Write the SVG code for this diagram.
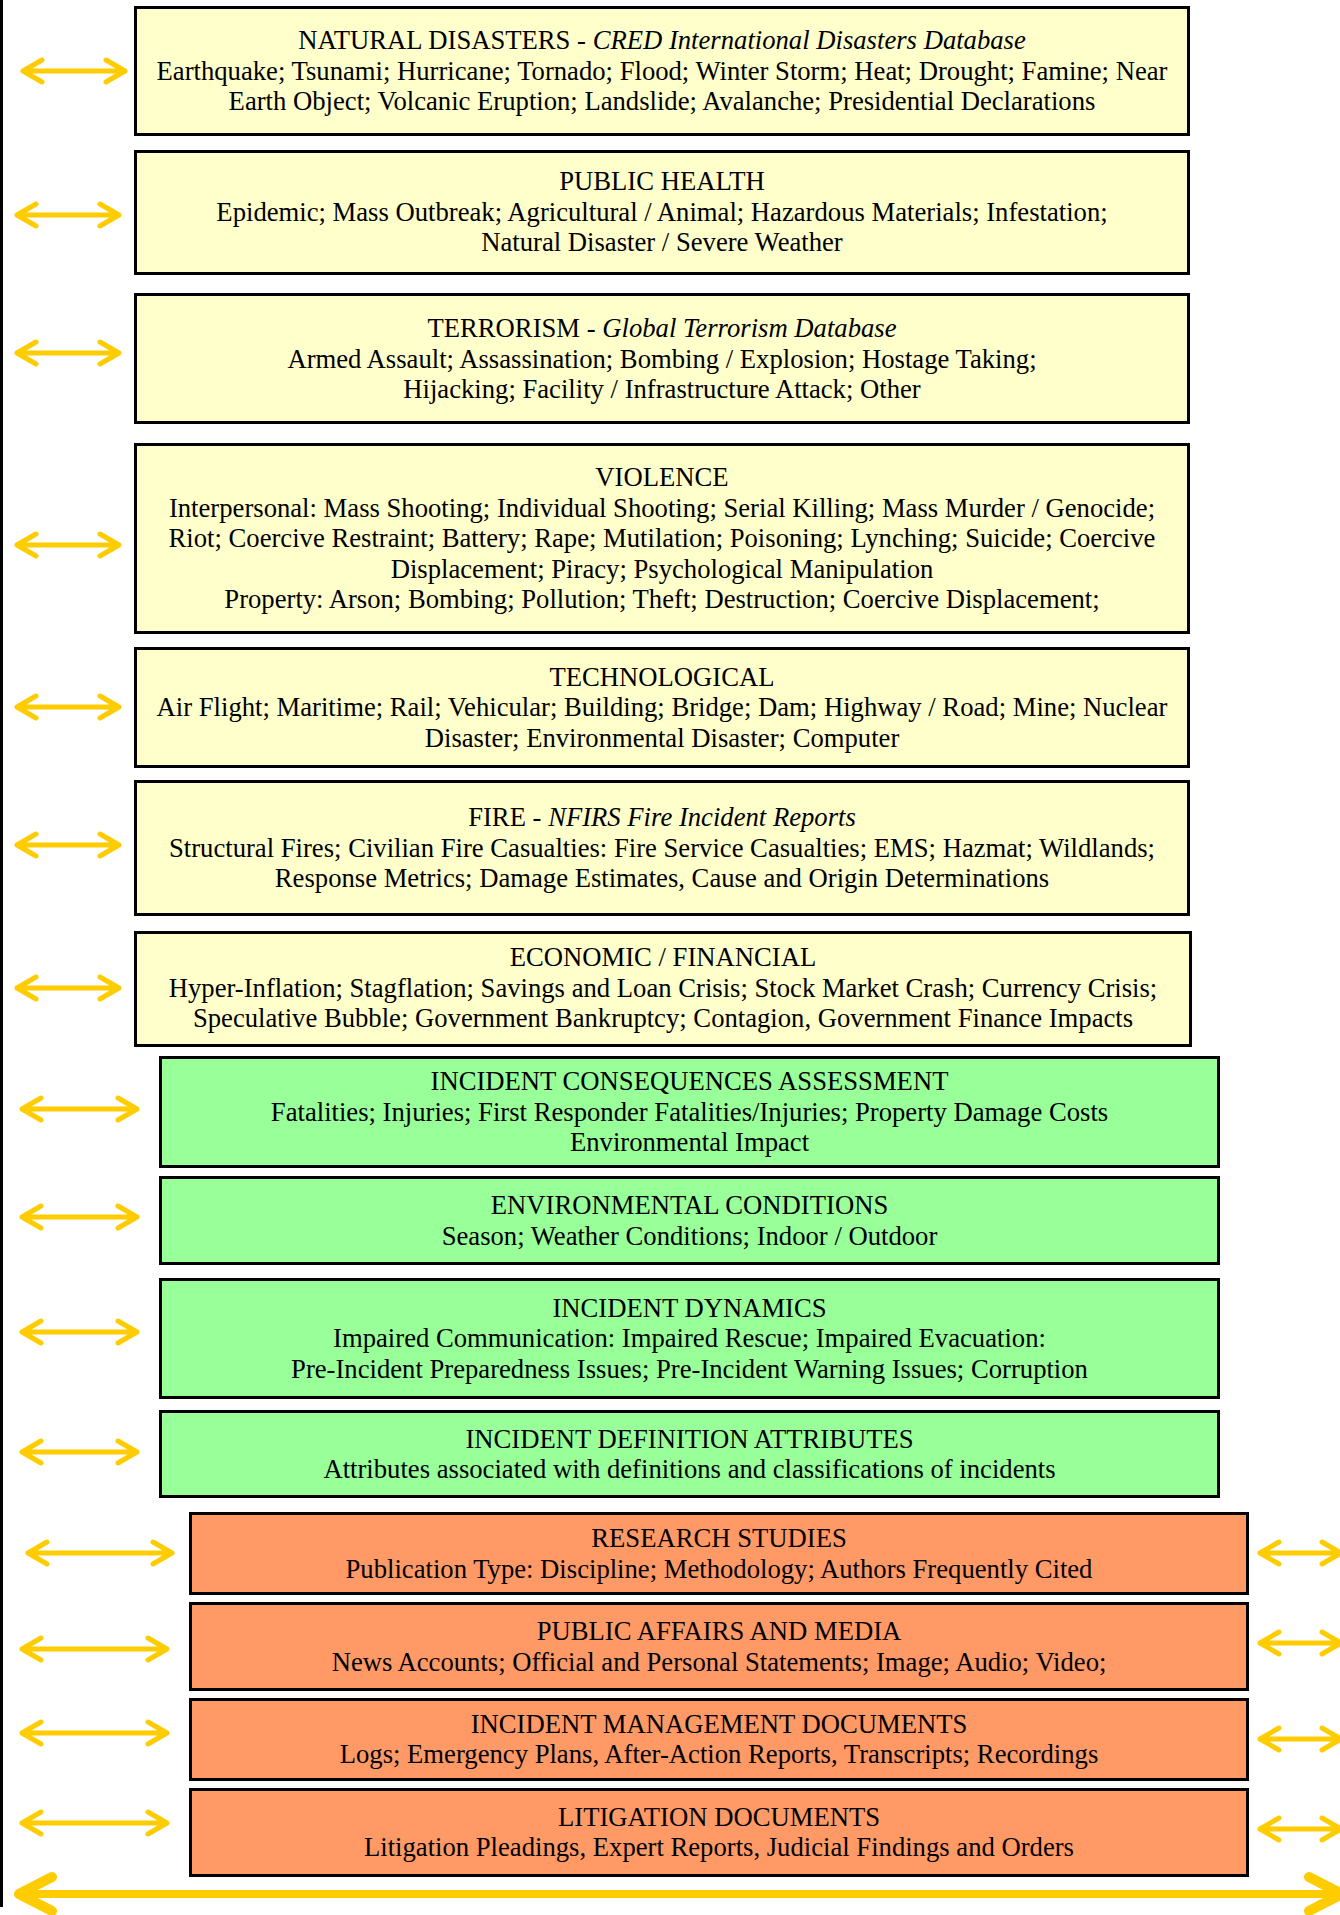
<svg xmlns="http://www.w3.org/2000/svg" width="1340" height="1915" viewBox="0 0 1340 1915">
<style>
.box{stroke:#000;stroke-width:3}
.y{fill:#FFFFCC}
.g{fill:#99FF99}
.o{fill:#FF9966}
text{font-family:"Liberation Serif","Times New Roman",serif;font-size:26.67px;fill:#000;text-anchor:middle}
.i{font-style:italic}
.arr{fill:none;stroke:#FFCC00;stroke-width:5;stroke-linecap:round;stroke-linejoin:round}
.big{fill:none;stroke:#FFCC00;stroke-width:8;stroke-linecap:round;stroke-linejoin:round}
.bighead{fill:none;stroke:#FFCC00;stroke-width:10;stroke-linecap:round;stroke-linejoin:round}
</style>
<rect width="1340" height="1915" fill="#fff"/>
<line x1="1.5" y1="0" x2="1.5" y2="1907" stroke="#000" stroke-width="3"/>

<g id="connectors">
<path class="arr" d="M23 71H125M42 60L23 71L42 82M106 60L125 71L106 82"/>
<path class="arr" d="M17 215H119M36 204L17 215L36 226M100 204L119 215L100 226"/>
<path class="arr" d="M17 353H119M36 342L17 353L36 364M100 342L119 353L100 364"/>
<path class="arr" d="M17 545H119M36 534L17 545L36 556M100 534L119 545L100 556"/>
<path class="arr" d="M17 707H119M36 696L17 707L36 718M100 696L119 707L100 718"/>
<path class="arr" d="M17 845H119M36 834L17 845L36 856M100 834L119 845L100 856"/>
<path class="arr" d="M17 988H119M36 977L17 988L36 999M100 977L119 988L100 999"/>
<path class="arr" d="M22 1109H137M41 1098L22 1109L41 1120M118 1098L137 1109L118 1120"/>
<path class="arr" d="M22 1217H137M41 1206L22 1217L41 1228M118 1206L137 1217L118 1228"/>
<path class="arr" d="M22 1332H137M41 1321L22 1332L41 1343M118 1321L137 1332L118 1343"/>
<path class="arr" d="M22 1452H137M41 1441L22 1452L41 1463M118 1441L137 1452L118 1463"/>
<path class="arr" d="M28 1553H172M47 1542L28 1553L47 1564M153 1542L172 1553L153 1564"/>
<path class="arr" d="M22 1649H167M41 1638L22 1649L41 1660M148 1638L167 1649L148 1660"/>
<path class="arr" d="M22 1733H167M41 1722L22 1733L41 1744M148 1722L167 1733L148 1744"/>
<path class="arr" d="M22 1823H167M41 1812L22 1823L41 1834M148 1812L167 1823L148 1834"/>
<path class="arr" d="M1260 1553H1341M1279 1542L1260 1553L1279 1564M1322 1542L1341 1553L1322 1564"/>
<path class="arr" d="M1260 1643H1341M1279 1632L1260 1643L1279 1654M1322 1632L1341 1643L1322 1654"/>
<path class="arr" d="M1260 1739H1341M1279 1728L1260 1739L1279 1750M1322 1728L1341 1739L1322 1750"/>
<path class="arr" d="M1260 1829H1341M1279 1818L1260 1829L1279 1840M1322 1818L1341 1829L1322 1840"/>
<path class="big" d="M20 1894H1340"/>
<path class="bighead" d="M52 1877L19 1894L52 1911M1309 1877L1342 1894L1309 1911"/>
</g>

<g id="natural-disasters">
<rect class="box y" x="135.5" y="7.5" width="1053" height="127"/>
<text x="662" y="49">NATURAL DISASTERS - <tspan class="i">CRED International Disasters Database</tspan></text>
<text x="662" y="80">Earthquake; Tsunami; Hurricane; Tornado; Flood; Winter Storm; Heat; Drought; Famine; Near</text>
<text x="662" y="110">Earth Object; Volcanic Eruption; Landslide; Avalanche; Presidential Declarations</text>
</g>
<g id="public-health">
<rect class="box y" x="135.5" y="151.5" width="1053" height="122"/>
<text x="662" y="190">PUBLIC HEALTH</text>
<text x="662" y="220.5">Epidemic; Mass Outbreak; Agricultural / Animal; Hazardous Materials; Infestation;</text>
<text x="662" y="251">Natural Disaster / Severe Weather</text>
</g>
<g id="terrorism">
<rect class="box y" x="135.5" y="294.5" width="1053" height="128"/>
<text x="662" y="337">TERRORISM - <tspan class="i">Global Terrorism Database</tspan></text>
<text x="662" y="367.5">Armed Assault; Assassination; Bombing / Explosion; Hostage Taking;</text>
<text x="662" y="398">Hijacking; Facility / Infrastructure Attack; Other</text>
</g>
<g id="violence">
<rect class="box y" x="135.5" y="444.5" width="1053" height="188"/>
<text x="662" y="486">VIOLENCE</text>
<text x="662" y="516.5">Interpersonal: Mass Shooting; Individual Shooting; Serial Killing; Mass Murder / Genocide;</text>
<text x="662" y="547">Riot; Coercive Restraint; Battery; Rape; Mutilation; Poisoning; Lynching; Suicide; Coercive</text>
<text x="662" y="577.5">Displacement; Piracy; Psychological Manipulation</text>
<text x="662" y="608">Property: Arson; Bombing; Pollution; Theft; Destruction; Coercive Displacement;</text>
</g>
<g id="technological">
<rect class="box y" x="135.5" y="648.5" width="1053" height="118"/>
<text x="662" y="685.5">TECHNOLOGICAL</text>
<text x="662" y="716">Air Flight; Maritime; Rail; Vehicular; Building; Bridge; Dam; Highway / Road; Mine; Nuclear</text>
<text x="662" y="746.5">Disaster; Environmental Disaster; Computer</text>
</g>
<g id="fire">
<rect class="box y" x="135.5" y="781.5" width="1053" height="133"/>
<text x="662" y="826">FIRE - <tspan class="i">NFIRS Fire Incident Reports</tspan></text>
<text x="662" y="856.5">Structural Fires; Civilian Fire Casualties: Fire Service Casualties; EMS; Hazmat; Wildlands;</text>
<text x="662" y="887">Response Metrics; Damage Estimates, Cause and Origin Determinations</text>
</g>
<g id="economic-financial">
<rect class="box y" x="135.5" y="932.5" width="1055" height="113"/>
<text x="663" y="966">ECONOMIC / FINANCIAL</text>
<text x="663" y="996.5">Hyper-Inflation; Stagflation; Savings and Loan Crisis; Stock Market Crash; Currency Crisis;</text>
<text x="663" y="1027">Speculative Bubble; Government Bankruptcy; Contagion, Government Finance Impacts</text>
</g>
<g id="incident-consequences">
<rect class="box g" x="160.5" y="1057.5" width="1058" height="109"/>
<text x="689.5" y="1090">INCIDENT CONSEQUENCES ASSESSMENT</text>
<text x="689.5" y="1120.5">Fatalities; Injuries; First Responder Fatalities/Injuries; Property Damage Costs</text>
<text x="689.5" y="1151">Environmental Impact</text>
</g>
<g id="environmental-conditions">
<rect class="box g" x="160.5" y="1177.5" width="1058" height="86"/>
<text x="689.5" y="1214">ENVIRONMENTAL CONDITIONS</text>
<text x="689.5" y="1244.5">Season; Weather Conditions; Indoor / Outdoor</text>
</g>
<g id="incident-dynamics">
<rect class="box g" x="160.5" y="1279.5" width="1058" height="118"/>
<text x="689.5" y="1316.5">INCIDENT DYNAMICS</text>
<text x="689.5" y="1347">Impaired Communication: Impaired Rescue; Impaired Evacuation:</text>
<text x="689.5" y="1377.5">Pre-Incident Preparedness Issues; Pre-Incident Warning Issues; Corruption</text>
</g>
<g id="incident-definition">
<rect class="box g" x="160.5" y="1411.5" width="1058" height="85"/>
<text x="689.5" y="1447.5">INCIDENT DEFINITION ATTRIBUTES</text>
<text x="689.5" y="1478">Attributes associated with definitions and classifications of incidents</text>
</g>
<g id="research-studies">
<rect class="box o" x="190.5" y="1513.5" width="1057" height="80"/>
<text x="719" y="1547">RESEARCH STUDIES</text>
<text x="719" y="1577.5">Publication Type: Discipline; Methodology; Authors Frequently Cited</text>
</g>
<g id="public-affairs">
<rect class="box o" x="190.5" y="1603.5" width="1057" height="86"/>
<text x="719" y="1640">PUBLIC AFFAIRS AND MEDIA</text>
<text x="719" y="1670.5">News Accounts; Official and Personal Statements; Image; Audio; Video;</text>
</g>
<g id="incident-management">
<rect class="box o" x="190.5" y="1699.5" width="1057" height="80"/>
<text x="719" y="1732.5">INCIDENT MANAGEMENT DOCUMENTS</text>
<text x="719" y="1763">Logs; Emergency Plans, After-Action Reports, Transcripts; Recordings</text>
</g>
<g id="litigation">
<rect class="box o" x="190.5" y="1789.5" width="1057" height="86"/>
<text x="719" y="1825.5">LITIGATION DOCUMENTS</text>
<text x="719" y="1856">Litigation Pleadings, Expert Reports, Judicial Findings and Orders</text>
</g>
</svg>
